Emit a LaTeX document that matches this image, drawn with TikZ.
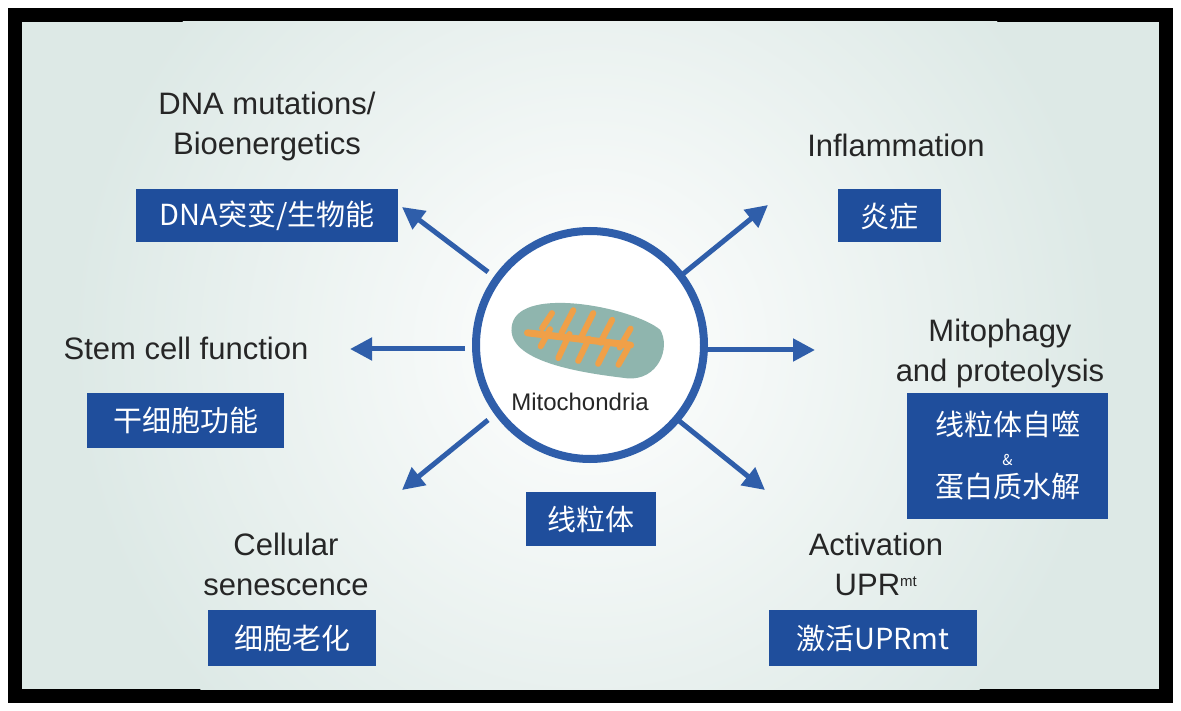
\documentclass[tikz,border=0pt]{standalone}
\usepackage{fontspec}
\setmainfont{Liberation Sans}
\newfontfamily\cjk{Noto Sans CJK SC}
\usetikzlibrary{arrows.meta}
\definecolor{bl}{HTML}{2F5EAA}
\definecolor{bx}{HTML}{1F4E9C}
\definecolor{bgm}{HTML}{DDE9E6}
\definecolor{teal}{HTML}{8FB5AE}
\definecolor{org}{HTML}{F0A048}
\begin{document}
\begin{tikzpicture}[x=1pt,y=-1pt,
  arr/.style={draw=bl,line width=5pt,-{Triangle[length=22pt,width=22pt]}},
  cbox/.style={fill=bx,text=white,font=\cjk\fontsize{29}{34}\selectfont,inner sep=0pt,anchor=center},
  lab/.style={text=black!85,font=\fontsize{31}{40}\selectfont,align=center,inner sep=0pt}]
\useasboundingbox (0,0) rectangle (1181,711);
\fill[white] (0,0) rectangle (1181,711);
\fill[black] (8,8) rectangle (1173,703);
\begin{scope}
\clip (22,22) rectangle (1159,689);
\fill[bgm] (22,22) rectangle (1159,689);
\shade[inner color=white,outer color=bgm] (590,345) circle (520);
\end{scope}
% circle
\node[circle,draw=bl,line width=8pt,fill=white,minimum size=228pt] (c) at (590,345) {};
% mitochondrion
\begin{scope}[shift={(585,342)},rotate=-14]
\fill[teal] (-75,0) .. controls (-75,-40) and (40,-45) .. (70,-30) .. controls (85,-15) and (80,20) .. (50,25) .. controls (10,30) and (-75,40) .. (-75,0) -- cycle;
\draw[org,line width=7pt,line cap=round] (-58,5) -- (45,-8);
\foreach \x/\a/\b in {-45/-20/15,-25/-28/22,-5/-30/20,15/-28/18,35/-24/14}{
  \draw[org,line width=6pt,line cap=round] (\x,-3) -- (\x+6,\a);
  \draw[org,line width=6pt,line cap=round] (\x+8,-4) -- (\x+3,\b);}
\end{scope}
\node[lab,font=\fontsize{24}{28}\selectfont] (mt) at (580,402) {Mitochondria};
% arrow anchors
\coordinate (ul) at (402,207); \coordinate (ur) at (768,205);
\coordinate (l) at (350,349); \coordinate (r) at (815,350);
\coordinate (dl) at (402,490); \coordinate (dr) at (765,490);
\coordinate (sul) at (488,272); \coordinate (sur) at (678,278);
\coordinate (sl) at (465,349); \coordinate (sr) at (703,350);
\coordinate (sdl) at (488,420); \coordinate (sdr) at (678,420);
\draw[arr] (sul) -- (ul); \draw[arr] (sur) -- (ur);
\draw[arr] (sl) -- (l); \draw[arr] (sr) -- (r);
\draw[arr] (sdl) -- (dl); \draw[arr] (sdr) -- (dr);
% labels
\node[lab] (t1) at (267,126) {DNA mutations/\\Bioenergetics};
\node[lab] (t2) at (896,145) {Inflammation};
\node[lab] (t3) at (186,348) {Stem cell function};
\node[lab] (t4) at (1000,353) {Mitophagy\\and proteolysis};
\node[lab] (t5) at (286,564) {Cellular\\senescence};
\node[lab] (t6) at (876,564) {Activation\\UPR\textsuperscript{\fontsize{15}{16}\selectfont mt}};
% chinese boxes
\node[cbox,minimum width=262pt,minimum height=53pt] (b1) at (267,216) {DNA突变/生物能};
\node[cbox,minimum width=103pt,minimum height=53pt] (b2) at (889.5,216) {炎症};
\node[cbox,minimum width=197pt,minimum height=55pt] (b3) at (185.5,420) {干细胞功能};
\node[cbox,minimum width=201pt,minimum height=126pt,align=center] (b4) at (1007.5,456) {线粒体自噬\\[-4pt]{\fontsize{15}{16}\selectfont \&}\\[-2pt]蛋白质水解};
\node[cbox,minimum width=130pt,minimum height=54pt] (b5) at (591,519) {线粒体};
\node[cbox,minimum width=168pt,minimum height=56pt] (b6) at (292,638) {细胞老化};
\node[cbox,minimum width=208pt,minimum height=56pt] (b7) at (873,638) {激活UPRmt};
\end{tikzpicture}
\end{document}
